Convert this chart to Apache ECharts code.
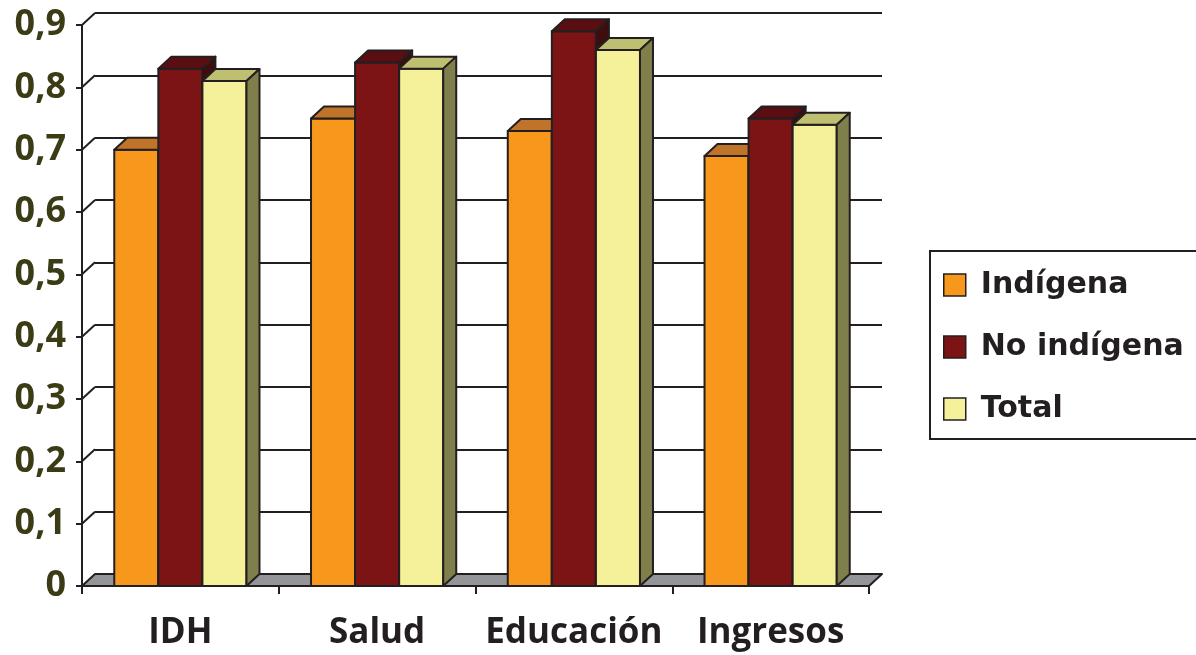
<!DOCTYPE html>
<html>
<head>
<meta charset="utf-8">
<script src="https://cdn.jsdelivr.net/npm/echarts@6/dist/echarts.min.js"></script>
<style>
  html, body { margin: 0; padding: 0; background: #fff; }
  #chart { width: 1196px; height: 655px; }
</style>
</head>
<body>
<div id="chart"></div>
<script>
// datos
const categories = ['IDH', 'Salud', 'Educación', 'Ingresos'];
const seriesNames = ['Indígena', 'No indígena', 'Total'];
const indigena = [0.70, 0.75, 0.73, 0.69];
const noIndigena = [0.83, 0.84, 0.89, 0.75];
const total = [0.81, 0.83, 0.86, 0.74];
const yTicks = [0, 0.1, 0.2, 0.3, 0.4, 0.5, 0.6, 0.7, 0.8, 0.9];
const yTickLabels = ['0', '0,1', '0,2', '0,3', '0,4', '0,5', '0,6', '0,7', '0,8', '0,9'];

// estilos
const OUTLINE = '#231F20';
const DX = 13, DY = 12; // profundidad 3D
const faces = [
  ['#F7981D', '#C0742A', '#A8621A'],   // frente, arriba, lado
  ['#7C1416', '#5A0E11', '#3E0D0E'],
  ['#F5F19A', '#BFBF72', '#7F7F4B']
];

const chart = echarts.init(document.getElementById('chart'));

const barRenderer = (idx) => (params, api) => {
  const cat = api.value(0), val = api.value(1);
  const top = api.coord([cat, val]);
  const base = api.coord([cat, 0]);
  const band = api.size([1, 0])[0];
  const w = band * 0.224;
  const x = top[0] + (idx - 1) * w - w / 2;
  const yT = top[1], yB = base[1];
  const st = { stroke: OUTLINE, lineWidth: 2, lineJoin: 'round' };
  const f = faces[idx];
  return {
    type: 'group',
    children: [
      { type: 'rect', shape: { x: x, y: yT, width: w, height: yB - yT }, style: Object.assign({ fill: f[0] }, st) },
      { type: 'polygon', shape: { points: [[x, yT], [x + DX, yT - DY], [x + w + DX, yT - DY], [x + w, yT]] }, style: Object.assign({ fill: f[1] }, st) },
      { type: 'polygon', shape: { points: [[x + w, yT], [x + w + DX, yT - DY], [x + w + DX, yB - DY], [x + w, yB]] }, style: Object.assign({ fill: f[2] }, st) }
    ]
  };
};

const labelFont = { fontFamily: 'Open Sans', fontWeight: 'bold', fontSize: 35 };

const option = {
  animation: false,
  grid: [
    { left: 82, top: 25, right: 327, bottom: 69 },              // plano frontal
    { left: 82 + DX, top: 25 - DY, right: 327 - DX, bottom: 69 + DY } // pared del fondo
  ],
  xAxis: [
    {
      type: 'category', data: categories, gridIndex: 0, z: 5,
      axisLine: { lineStyle: { color: OUTLINE, width: 2 } },
      axisTick: { show: true, interval: 0, length: 8, lineStyle: { color: OUTLINE, width: 2 } },
      axisLabel: Object.assign({ color: OUTLINE, margin: 30, interval: 0, hideOverlap: false }, labelFont)
    },
    { type: 'category', data: categories, gridIndex: 1, show: false }
  ],
  yAxis: [
    {
      type: 'value', gridIndex: 0, min: 0, max: 0.9, interval: 0.1, z: 5,
      axisLine: { show: true, lineStyle: { color: OUTLINE, width: 2 } },
      axisTick: { show: true, length: 6, lineStyle: { color: OUTLINE, width: 2 } },
      splitLine: { show: false },
      axisLabel: Object.assign({
        color: '#3B3B16', margin: 16,
        formatter: v => yTickLabels[Math.round(v * 10)]
      }, labelFont, { fontSize: 36 })
    },
    {
      type: 'value', gridIndex: 1, min: 0, max: 0.9, interval: 0.1,
      axisLine: { show: false }, axisTick: { show: false }, axisLabel: { show: false },
      splitLine: { show: true, lineStyle: { color: OUTLINE, width: 2 } }
    }
  ],
  legend: {
    orient: 'vertical', left: 930, top: 251,
    data: seriesNames.map((n, i) => ({
      name: n, itemStyle: { color: faces[i][0], borderColor: OUTLINE, borderWidth: 1.5 }
    })),
    icon: 'rect', itemWidth: 22, itemHeight: 22, itemGap: 32,
    padding: [19, 20, 15, 13],
    borderColor: OUTLINE, borderWidth: 2,
    selectedMode: false,
    textStyle: { fontFamily: 'DejaVu Sans', fontWeight: 'bold', fontSize: 30, color: OUTLINE, lineHeight: 30, padding: [0, 0, 0, 10] }
  },
  series: [
    {
      // suelo gris
      type: 'custom', name: 'suelo', xAxisIndex: 0, yAxisIndex: 0, z: 2, silent: true,
      data: [[0, 0]],
      renderItem: (params, api) => {
        const cs = params.coordSys;
        const yB = cs.y + cs.height;
        return {
          type: 'polygon',
          shape: { points: [[cs.x, yB], [cs.x + cs.width, yB], [cs.x + cs.width + DX, yB - DY], [cs.x + DX, yB - DY]] },
          style: { fill: '#939598', stroke: OUTLINE, lineWidth: 2, lineJoin: 'round' }
        };
      }
    },
    {
      // diagonales de la pared izquierda
      type: 'custom', name: 'pared', xAxisIndex: 0, yAxisIndex: 0, z: 2, silent: true,
      data: yTicks.slice(1).map(v => [0, v]),
      renderItem: (params, api) => {
        const x0 = params.coordSys.x;
        const y = api.coord([0, api.value(1)])[1];
        return {
          type: 'line',
          shape: { x1: x0, y1: y, x2: x0 + DX, y2: y - DY },
          style: { stroke: OUTLINE, lineWidth: 2 }
        };
      }
    },
    {
      type: 'custom', name: seriesNames[0], z: 3, itemStyle: { color: faces[0][0] },
      data: indigena.map((v, i) => [i, v]), renderItem: barRenderer(0)
    },
    {
      type: 'custom', name: seriesNames[1], z: 3, itemStyle: { color: faces[1][0] },
      data: noIndigena.map((v, i) => [i, v]), renderItem: barRenderer(1)
    },
    {
      type: 'custom', name: seriesNames[2], z: 3, itemStyle: { color: faces[2][0] },
      data: total.map((v, i) => [i, v]), renderItem: barRenderer(2)
    }
  ]
};

chart.setOption(option);
</script>
</body>
</html>
